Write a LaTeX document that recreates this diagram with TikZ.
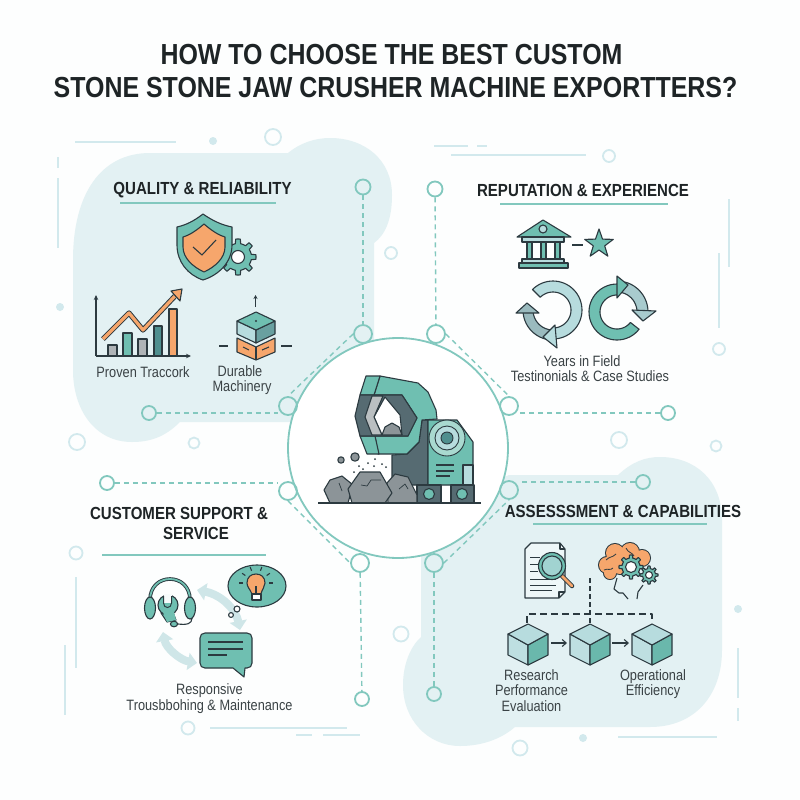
\documentclass[tikz,border=0pt]{standalone}
\usepackage{fontspec}
\usetikzlibrary{arrows.meta}
\setmainfont{Liberation Sans}
\newfontfamily\titlefam[FakeStretch=0.86]{Liberation Sans}
\newfontfamily\labelfam[FakeStretch=0.85]{Liberation Sans}
\definecolor{inkdark}{HTML}{2C3A40}
\definecolor{txtdark}{HTML}{1E2426}
\definecolor{txtmid}{HTML}{3A4245}
\definecolor{ringteal}{HTML}{82C8BE}
\definecolor{ringpale}{HTML}{D2E9ED}
\definecolor{blobtint}{HTML}{E3F1F3}
\definecolor{tealmain}{HTML}{6FBFB1}
\definecolor{tealdeep}{HTML}{4F8F8F}
\definecolor{tealpale}{HTML}{B7DCDE}
\definecolor{arrowpale}{HTML}{CFE6E8}
\definecolor{orangefill}{HTML}{F6A66C}
\definecolor{rockgray}{HTML}{8C9498}
\definecolor{slate}{HTML}{566B72}
\definecolor{paper}{HTML}{FDFEFE}
\tikzset{
  ringa/.style={circle,draw=ringteal,line width=1.8pt,inner sep=0pt,minimum size=#1},
  ringb/.style={circle,draw=ringpale,line width=1.8pt,inner sep=0pt,minimum size=#1},
  dotb/.style={circle,fill=ringpale,inner sep=0pt,minimum size=#1},
  dashline/.style={draw=ringteal,line width=1.4pt,dash pattern=on 5pt off 4pt},
  paleline/.style={draw=ringpale,line width=1.4pt},
  underbar/.style={draw=ringteal,line width=1.3pt},
  ink/.style={draw=inkdark,line width=1.1pt,line join=round},
  ttl/.style={font=\titlefam\bfseries\fontsize{29}{33}\selectfont,text=txtdark,inner sep=0pt,align=center},
  hdg/.style={font=\titlefam\bfseries\fontsize{17.5}{20}\selectfont,text=txtdark,inner sep=0pt,align=center},
  lbl/.style={font=\labelfam\fontsize{15}{15.6}\selectfont,text=txtmid,inner sep=0pt,align=center},
}
\newcommand\annu[7]{\draw[ink,fill=#7,shift={(#1,#2)}] plot[domain=#5:#6,samples=40] (\x:#4) -- plot[domain=#6:#5,samples=40] (\x:#3) -- cycle;}
\newcommand\cog[6]{\draw[ink,fill=#6,shift={(#1,#2)}] plot[domain=0:360,samples=97] (\x:{cos(8*\x)>0?#3:#4}) -- cycle; \draw[ink,fill=white] (#1,#2) circle[radius=#5];}
\begin{document}
\begin{tikzpicture}[x=1pt,y=-1pt]
\useasboundingbox (0,0) rectangle (800,800);
\fill[paper] (0,0) rectangle (800,800);
% blobs
\fill[blobtint] (73,260) .. controls (73,195) and (100,153) .. (150,153) -- (288,153)
  .. controls (300,143) and (315,138) .. (330,138) .. controls (365,138) and (392,160) .. (392,195)
  .. controls (392,220) and (385,235) .. (374,243) -- (374,400) -- (340,422) -- (180,422)
  .. controls (165,437) and (150,442) .. (132,442) .. controls (95,442) and (73,410) .. (73,370) -- cycle;
\fill[blobtint] (450,500) -- (509,475) -- (618,475) .. controls (632,462) and (645,457) .. (660,457)
  .. controls (695,457) and (722,480) .. (722,520) -- (722,650) .. controls (722,695) and (695,727) .. (650,727)
  -- (515,727) .. controls (500,740) and (480,746) .. (460,746) .. controls (428,746) and (403,720) .. (403,685)
  .. controls (403,665) and (410,647) .. (421,637) -- (421,500) -- cycle;
% decorative lines
\draw[paleline] (75,142) -- (176,142);
\draw[paleline] (58,157) -- (58,168);
\draw[paleline] (58,178) -- (58,248);
\draw[paleline] (434,146) -- (468,146);
\draw[paleline] (477,146) -- (487,146);
\draw[paleline] (451,155) -- (586,155);
\draw[paleline] (729,199) -- (729,267);
\draw[paleline] (719,253) -- (719,328);
\draw[paleline] (76,577) -- (76,668);
\draw[paleline] (65,645) -- (65,715);
\draw[paleline] (210,728) -- (347,728);
\draw[paleline] (296,735) -- (312,735);
\draw[paleline] (323,735) -- (360,735);
\draw[paleline] (618,737) -- (717,737);
\draw[paleline] (738,648) -- (738,698);
\draw[paleline] (738,708) -- (738,721);
% pale rings and dots
\node[ringb=16pt] (pa) at (273,137) {};
\node[dotb=8pt] (da) at (213,141) {};
\node[dotb=8pt] (db) at (60,307) {};
\node[ringb=12pt] (pb) at (391,253) {};
\node[ringb=12pt] (pc) at (609,156) {};
\node[ringb=12pt] (pd) at (719,349) {};
\node[ringb=16pt] (pe) at (77,442) {};
\node[ringb=11pt] (pf) at (194,443) {};
\node[ringb=16pt] (pg) at (619,440) {};
\node[ringb=11pt] (ph) at (716,446) {};
\node[ringb=13pt] (pi) at (76,553) {};
\node[ringb=13pt] (pj) at (188,728) {};
\node[ringb=15pt] (pk) at (401,634) {};
\node[ringb=15pt] (pl) at (520,748) {};
\node[dotb=8pt] (dc) at (583,738) {};
\node[dotb=8pt] (dd) at (738,609) {};
% hub and rings
\node[circle,fill=white,draw=ringteal,line width=1.8pt,minimum size=220pt,inner sep=0pt] (hub) at (398,448) {};
\node[ringa=15pt] (ra) at (363,187) {};
\node[ringa=18pt] (rb) at (363,334) {};
\node[ringa=18pt] (rc) at (288,406) {};
\node[ringa=14pt] (rd) at (149,413) {};
\node[ringa=15pt] (re) at (435,189) {};
\node[ringa=18pt] (rf) at (436,334) {};
\node[ringa=18pt] (rg) at (509,406) {};
\node[ringa=14pt] (rh) at (668,413) {};
\node[ringa=18pt] (ri) at (288,491) {};
\node[ringa=14pt] (rj) at (107,483) {};
\node[ringa=18pt] (rk) at (360,563) {};
\node[ringa=14pt] (rl) at (362,699) {};
\node[ringa=18pt] (rm) at (434,563) {};
\node[ringa=14pt] (rn) at (434,694) {};
\node[ringa=18pt] (ro) at (509,490) {};
\node[ringa=14pt] (rp) at (643,482) {};
\draw[dashline] (ra) -- (rb);
\draw[dashline] (re) -- (rf);
\draw[dashline] (rd) -- (rd -| rc.west);
\draw[dashline] (rh) -- (rh -| rg.east);
\draw[dashline] (rj) -- (rj -| ri.west);
\draw[dashline] (rp) -- (rp -| ro.east);
\draw[dashline] (rk) -- (rl);
\draw[dashline] (rm) -- (rn);
\draw[dashline] (rb.west) -- (rc.north);
\draw[dashline] (rf.east) -- (rg.north);
\draw[dashline] (ri.south) -- (rk.west);
\draw[dashline] (rm.east) -- (ro.south);
% title
\node[ttl] (t1) at (391.5,54.5) {HOW TO CHOOSE THE BEST CUSTOM};
\node[ttl] (t2) at (395.5,87.5) {STONE STONE JAW CRUSHER MACHINE EXPORTTERS?};
% headings
\node[hdg] (h1) at (202.5,190) {QUALITY \& RELIABILITY};
\draw[underbar] (120,203) -- (276,203);
\node[hdg] (h2) at (583,190) {REPUTATION \& EXPERIENCE};
\draw[underbar] (500,204) -- (668,204);
\node[hdg] (h3) at (179,523) {CUSTOMER SUPPORT \&\\\hspace*{34pt}SERVICE};
\draw[underbar] (102,555) -- (266,555);
\node[hdg] (h4) at (623,511) {ASSESSSMENT \& CAPABILITIES};
\draw[underbar] (533,524) -- (707,524);
% labels
\node[lbl] (l1) at (143,372) {Proven Traccork};
\node[lbl] (l2) at (242,380) {Durable\hspace*{4pt}\\Machinery};
\node[lbl] (l3) at (590,368.5) {Years in Field\hspace*{16pt}\\Testinonials \& Case Studies};
\node[lbl] (l4) at (209.5,698.5) {Responsive\\Trousbbohing \& Maintenance};
\node[lbl] (l5) at (531.5,690.5) {Research\\Performance\\Evaluation};
\node[lbl] (l6) at (653,684) {Operational\\Efficiency};
% --- Quality icons
\cog{238}{257}{18}{13.5}{6.5}{tealmain}
\draw[ink,fill=tealmain] (203,214) .. controls (213,221) and (222,225) .. (232,227) -- (232,245) .. controls (232,262) and (219,275) .. (203,280) .. controls (188,275) and (177,262) .. (177,245) -- (177,227) .. controls (186,225) and (194,221) .. (203,214) -- cycle;
\draw[ink,fill=orangefill] (204,224) .. controls (211,230) and (218,235) .. (225,237) -- (225,247) .. controls (225,258) and (215,267) .. (204,272) .. controls (193,267) and (183,258) .. (183,247) -- (183,237) .. controls (190,235) and (197,230) .. (204,224) -- cycle;
\draw[ink] (193,247) -- (202,255) -- (216,240);
% chart
\draw[ink,fill=rockgray!70] (108,345) rectangle (117,356);
\draw[ink,fill=tealmain] (123,333) rectangle (132,356);
\draw[ink,fill=rockgray!70] (138,339) rectangle (147,356);
\draw[ink,fill=tealdeep] (154,326) rectangle (162,356);
\draw[ink,fill=orangefill] (169,309) rectangle (177,356);
\draw[ink,-{Stealth[length=5pt,width=4.5pt]}] (96,356) -- (96,295);
\draw[ink,-{Stealth[length=5pt,width=4.5pt]}] (96,356) -- (191,356);
\draw[draw=inkdark,line width=5.2pt,line join=round] (103,339) -- (129,313) -- (143,330) -- (175,296);
\draw[draw=orangefill,line width=3.2pt,line join=round] (103,339) -- (129,313) -- (143,330) -- (175,296);
\draw[ink,fill=orangefill] (182,289) -- (171,291) -- (180,301) -- cycle;
% blocks
\draw[ink,-{Stealth[length=4pt,width=4pt]}] (255.5,307) -- (255.5,295);
\draw[ink,fill=orangefill] (237,338) -- (256,347) -- (275,338) -- (275,352) -- (256,360) -- (237,352) -- cycle;
\draw[ink] (256,347) -- (256,360);
\draw[ink] (243,347) -- (249,350);
\draw[ink] (262,350) -- (269,347);
\draw[ink,fill=tealpale] (237,321) -- (256,330) -- (256,343) -- (237,334) -- cycle;
\draw[ink,fill=tealdeep!85] (275,321) -- (256,330) -- (256,343) -- (275,334) -- cycle;
\draw[ink,fill=tealmain] (256,312) -- (275,321) -- (256,330) -- (237,321) -- cycle;
\fill[inkdark] (256,321) circle[radius=1.1];
\draw[ink] (219,346) -- (228,346);
\draw[ink] (281,346) -- (292,346);
% --- Reputation icons
\draw[ink,fill=tealmain] (543,220) -- (571,237) -- (517,237) -- cycle;
\draw[ink,fill=tealpale] (543,229) circle[radius=4];
\draw[ink,fill=tealpale] (522,237) rectangle (564,242);
\draw[ink,fill=tealmain] (527,242) rectangle (532,259);
\draw[ink,fill=tealmain] (541,242) rectangle (546,259);
\draw[ink,fill=tealmain] (555,242) rectangle (560,259);
\draw[ink,fill=tealpale] (522,259) rectangle (564,263);
\draw[ink,fill=tealmain] (519,263) rectangle (568,268);
\draw[ink] (572,245) -- (583,245);
\draw[ink,fill=tealmain,shift={(599,244)}] plot[domain=270:594,samples=10] (\x:{mod(round((\x-270)/36),2)==0?15:6}) -- cycle;
\annu{553}{310}{20}{30}{85}{178}{tealpale!70!slate}
\draw[ink,fill=tealpale!70!slate] (516,313) -- (527,303) -- (539,313) -- cycle;
\annu{553}{310}{18}{29}{225}{445}{tealpale}
\draw[ink,fill=tealpale] (555,325) -- (543,337) -- (557,348) -- cycle;
\annu{617}{312}{20}{31}{285}{360}{tealpale!85!slate}
\draw[ink,fill=tealpale!85!slate] (656,311) -- (643,321) -- (632,310) -- cycle;
\annu{617}{312}{17}{28}{38}{272}{tealmain}
\draw[ink,fill=tealmain] (617,276) -- (628,285) -- (617,298) -- cycle;
% --- Crusher
\draw[ink,fill=slate] (422,420) -- (428,420) -- (428,485) -- (392,485) -- (392,455) -- (407,454) -- (419,442) -- cycle;
\draw[ink,fill=tealmain] (380,376) -- (418,383) -- (428,392) -- (436,410) -- (437,419) -- (422,420) -- (419,442) -- (407,454) -- (378,454) -- (375,436) -- (408,436) -- (417,418) -- (402,395) -- (374,395) -- cycle;
\draw[ink,fill=tealmain] (366,376) -- (380,376) -- (374,395) -- (360,395) -- cycle;
\draw[ink,fill=tealmain] (360,436) -- (375,436) -- (379,454) -- (367,454) -- cycle;
\draw[ink,fill=slate] (360,395) -- (355,416) -- (360,436) -- (408,436) -- (417,418) -- (402,395) -- cycle;
\draw[ink,fill=white] (385,397) -- (400,415) -- (402,435) -- (382,435) -- (374,417) -- cycle;
\draw[ink,fill=rockgray!60] (372,396) -- (383,396) -- (374,417) -- (382,435) -- (372,435) -- (365,417) -- cycle;
\draw[ink,fill=rockgray] (382,435) -- (385,427) -- (392,423) -- (399,427) -- (402,435) -- cycle;
\draw[ink,fill=tealmain] (428,420) -- (457,420) -- (473,442) -- (473,485) -- (428,485) -- cycle;
\draw[draw=inkdark,line width=.9pt,fill=tealmain!60] (447,438) circle[radius=18];
\draw[draw=inkdark,line width=.9pt,fill=tealpale] (447,438) circle[radius=12];
\draw[draw=inkdark,line width=.9pt,fill=tealdeep] (447,438) circle[radius=6];
\draw[ink] (436,465) -- (454,465);
\draw[ink] (436,471) -- (454,471);
\draw[ink] (436,476) -- (450,476);
\draw[ink,fill=tealpale] (463,465) rectangle (473,485);
\draw[ink,fill=slate] (417,485) rectangle (441,503);
\draw[ink,fill=slate] (451,485) rectangle (474,503);
\draw[ink,fill=tealmain] (429,494) circle[radius=5.5];
\draw[ink,fill=tealmain] (462,494) circle[radius=5.5];
\draw[ink,fill=rockgray] (324,490) -- (330,480) -- (342,476) -- (353,485) -- (348,503) -- (330,503) -- cycle;
\draw[ink,fill=rockgray] (387,483) -- (395,474) -- (408,477) -- (417,495) -- (417,503) -- (388,503) -- cycle;
\draw[ink,fill=rockgray] (348,489) -- (360,472) -- (380,472) -- (392,493) -- (385,503) -- (352,503) -- cycle;
\draw[ink,line width=.7pt] (339,483) -- (342,491);
\draw[ink,line width=.7pt] (361,485) -- (367,486) -- (371,480) -- (381,480);
\draw[ink,line width=.7pt] (399,489) -- (405,484) -- (408,489);
\draw[ink,fill=rockgray] (341,460) circle[radius=3.2];
\draw[ink,fill=rockgray] (355,457) circle[radius=4.2];
\foreach \dx/\dy in {375/459,382/464,368/463,374/466,363/469,354/472,386/467,359/466}
  \fill[inkdark] (\dx,\dy) circle[radius=1];
\draw[ink] (318,503) -- (481,503);
% --- Support icons
\draw[draw=arrowpale,line width=8pt,{Triangle[length=9pt,width=17pt]}-{Triangle[length=9pt,width=17pt]}] (197,590) .. controls (222,595) and (236,610) .. (240,630);
\draw[draw=arrowpale,line width=8pt,{Triangle[length=9pt,width=17pt]}-{Triangle[length=9pt,width=17pt]}] (163,632) .. controls (166,648) and (180,660) .. (197,663);
\draw[ink,fill=tealmain] (200,638) .. controls (200,635) and (202,633) .. (205,633) -- (247,633) .. controls (250,633) and (252,635) .. (252,638) -- (252,663) .. controls (252,666) and (250,668) .. (247,668) -- (245,668) -- (244,677) -- (233,668) -- (205,668) .. controls (202,668) and (200,666) .. (200,663) -- cycle;
\draw[ink] (208,642) -- (243,642);
\draw[ink] (208,649) -- (243,649);
\draw[ink] (208,655) -- (227,655);
\draw[ink,fill=tealmain] (257,586) ellipse[x radius=29,y radius=21];
\draw[ink,fill=orangefill] (252,594) .. controls (250,589) and (247,587) .. (247,583) .. controls (247,577) and (251,574) .. (256,574) .. controls (261,574) and (265,577) .. (265,583) .. controls (265,587) and (262,589) .. (261,594) -- cycle;
\draw[ink,fill=white] (252,594) rectangle (261,600);
\draw[ink] (256,594) -- (256,586);
\foreach \ang in {180,215,250,290,325,360}
  \draw[ink,shift={(256,583)}] (\ang:13) -- (\ang:17);
\draw[ink,fill=white] (237,609) circle[radius=3];
\draw[ink,fill=white] (231,615) circle[radius=2.4];
\draw[draw=inkdark,line width=3.6pt] (150,600) .. controls (150,572) and (190,572) .. (190,600);
\draw[draw=tealmain,line width=1.8pt] (150,600) .. controls (150,572) and (190,572) .. (190,600);
\draw[ink,fill=tealmain] (150,608) ellipse[x radius=5.5,y radius=11];
\draw[ink,fill=tealmain] (190,608) ellipse[x radius=5.5,y radius=11];
\draw[ink,fill=tealmain] (161,613) -- (167,622) -- (176,620) -- (172,610) -- cycle;
\draw[ink,fill=tealmain] (168,605) circle[radius=10];
\fill[tealmain] (163,612) -- (174,612) -- (176,620) -- (167,622) -- cycle;
\fill[blobtint!30!white] (163.5,594) rectangle (171.5,603);
\draw[draw=inkdark,line width=1pt] (163.5,596) -- (163.5,603) .. controls (163.5,609) and (171.5,609) .. (171.5,603) -- (171.5,596);
\draw[ink] (192,618) .. controls (192,624) and (187,625) .. (178,624);
\draw[ink,fill=tealmain] (174,624) ellipse[x radius=3.6,y radius=2.8];
% --- Assessment icons
\draw[ink,fill=blobtint!60!white] (531,543) -- (560,543) -- (565,549) -- (565,592) -- (559,598) -- (525,598) -- (525,549) -- cycle;
\draw[ink] (560,543) -- (560,549) -- (565,549);
\draw[ink] (565,592) -- (559,592) -- (559,598);
\foreach \ly/\lx in {557/540,564/540,571/538,579/556,585/556,590/552}
  \draw[ink,line width=.8pt] (530,\ly) -- (\lx,\ly);
\draw[line width=4.5pt,draw=inkdark,line cap=round] (562,576) -- (572,586);
\draw[line width=2.8pt,draw=orangefill,line cap=round] (562,576) -- (572,586);
\draw[ink,fill=tealmain] (552,566) circle[radius=13.5];
\draw[ink,fill=tealpale!70!tealmain] (552,566) circle[radius=10];
\foreach \cxx/\cyy/\crr in {607/565/8,615/553/9,630/552/9,642/558/8,610/573/6,620/562/12}
  \draw[draw=inkdark,line width=2pt] (\cxx,\cyy) circle[radius=\crr];
\foreach \cxx/\cyy/\crr in {607/565/8,615/553/9,630/552/9,642/558/8,610/573/6,620/562/12}
  \fill[orangefill] (\cxx,\cyy) circle[radius=\crr];
\draw[draw=inkdark,line width=.8pt] (606,560) .. controls (610,556) and (612,558) .. (616,554);
\draw[draw=inkdark,line width=.8pt] (626,548) .. controls (628,553) and (632,552) .. (634,556);
\draw[draw=inkdark,line width=.8pt] (604,570) .. controls (608,568) and (610,571) .. (613,568);
\draw[ink] (617,578) -- (614,589) -- (619,593) -- (623,593) -- (628,599);
\draw[ink] (637,599) -- (638,592) -- (643,585);
\cog{631}{567}{12}{9}{5.5}{tealmain}
\cog{649}{575}{9}{6.5}{3.5}{tealmain}
\draw[ink,dash pattern=on 7pt off 4pt] (527,623) -- (527,614) -- (652,614) -- (652,623);
\draw[ink,dash pattern=on 5pt off 3pt] (590,578) -- (590,623);
\foreach \cx in {528,590,652} {
  \draw[ink,fill=tealpale!90!white] (\cx-20,655) -- (\cx-20,634) -- (\cx,645) -- (\cx,665) -- cycle;
  \draw[ink,fill=tealmain!85!tealdeep] (\cx+20,655) -- (\cx+20,634) -- (\cx,645) -- (\cx,665) -- cycle;
  \draw[ink,fill=tealpale] (\cx,624) -- (\cx+20,634) -- (\cx,645) -- (\cx-20,634) -- cycle;
}
\draw[ink,-{Straight Barb[length=4pt,width=7pt]}] (551,643) -- (567,643);
\draw[ink,-{Straight Barb[length=4pt,width=7pt]}] (612,643) -- (629,643);
\end{tikzpicture}
\end{document}
